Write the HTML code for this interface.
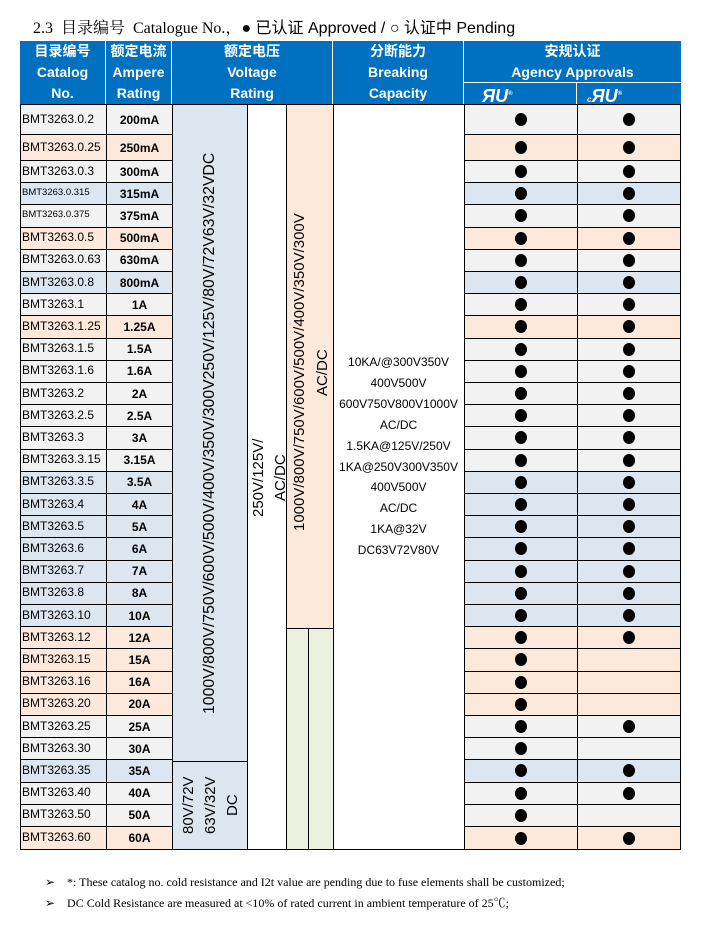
<!DOCTYPE html>
<html><head><meta charset="utf-8"><style>
body{margin:0;width:712px;height:936px;background:#fff;position:relative;overflow:hidden;font-family:"Liberation Sans","Noto Sans CJK SC",sans-serif}
.a{position:absolute;box-sizing:border-box}
.h{position:absolute;background:#0070c0;color:#fff;font-weight:bold;font-size:14px;text-align:center;line-height:21px;box-sizing:border-box;border-right:1.5px solid #fff}
.r{position:absolute;left:0;width:712px}
.r b{position:absolute;top:0;bottom:0;box-sizing:border-box;border:1px solid #000;margin-top:-1px;height:calc(100% + 1px);display:flex;align-items:center;font-weight:normal}
.c1{left:20px;width:87px;font-size:12px;padding-left:1px;padding-bottom:2px}
.c2{left:106px;width:67px;justify-content:center;font-weight:bold!important;font-size:12px}
.c3{left:464px;width:114px;justify-content:center}
.c4{left:577px;width:104px;justify-content:center}
.c3 i,.c4 i{display:block;width:12px;height:13px;border-radius:50%;background:#000}
.G b{background:#f2f2f2}.P b{background:#fce9db}.B b{background:#dce6f1}
.s{font-size:9.5px!important}
.v{position:absolute;writing-mode:vertical-rl;transform:rotate(180deg);text-align:center;font-size:15px;line-height:22px;white-space:nowrap}
.bk{position:absolute;left:333px;width:131px;text-align:center;font-size:12px}
</style></head><body>
<div class="a" style="left:33px;top:14px;font-size:16px;white-space:nowrap"><span style="font-family:'Liberation Serif','Noto Serif CJK SC',serif">2.3&nbsp; 目录编号&nbsp; Catalogue No.，</span>● 已认证 Approved / ○ 认证中 Pending</div>

<div class="h" style="left:20px;top:41px;width:86px;height:63px">目录编号<br>Catalog<br>No.</div>
<div class="h" style="left:106px;top:41px;width:66px;height:63px">额定电流<br>Ampere<br>Rating</div>
<div class="h" style="left:172px;top:41px;width:161px;height:63px">额定电压<br>Voltage<br>Rating</div>
<div class="h" style="left:333px;top:41px;width:131px;height:63px">分断能力<br>Breaking<br>Capacity</div>
<div class="h" style="left:464px;top:41px;width:217px;height:42px;border-right:none;border-bottom:1.5px solid #fff">安规认证<br>Agency Approvals</div>
<div class="h" style="left:464px;top:83px;width:113px;height:21px;font-size:18px;font-style:italic;text-align:left;padding-left:18px;line-height:22px">ЯU<sup style="font-size:6px">®</sup></div>
<div class="h" style="left:577px;top:83px;width:104px;height:21px;font-size:18px;font-style:italic;border-right:none;text-align:left;padding-left:10px;line-height:22px"><span style="font-size:8px">c</span>ЯU<sup style="font-size:6px">®</sup></div>

<div class="a" style="left:172px;top:104px;width:76px;height:658px;background:#dce6f1;border:1px solid #000"></div>
<div class="a" style="left:172px;top:761px;width:76px;height:89px;background:#dce6f1;border:1px solid #000"></div>
<div class="a" style="left:247px;top:104px;width:40px;height:746px;background:#fff;border:1px solid #000"></div>
<div class="a" style="left:286px;top:104px;width:48px;height:525px;background:#fce9db;border:1px solid #000"></div>
<div class="a" style="left:286px;top:628px;width:23px;height:222px;background:#ebf1de;border:1px solid #000"></div>
<div class="a" style="left:308px;top:628px;width:26px;height:222px;background:#ebf1de;border:1px solid #000"></div>
<div class="a" style="left:333px;top:104px;width:132px;height:746px;background:#fff;border:1px solid #000"></div>

<div class="v" style="left:199px;top:104px;height:658px;display:flex;align-items:center;justify-content:center;font-size:15.8px">1000V/800V/750V/600V/500V/400V/350V/300V250V/125V/80V/72V63V/32VDC</div>
<div class="v" style="left:178px;top:761px;height:89px;display:flex;align-items:center;justify-content:center">80V/72V<br>63V/32V<br>DC</div>
<div class="v" style="left:248px;top:420px;height:116px;display:flex;align-items:center;justify-content:center">250V/125V/<br>AC/DC</div>
<div class="v" style="left:288px;top:200px;height:345px;display:flex;align-items:center;justify-content:center;line-height:23px">1000V/800V/750V/600V/500V/400V/350V/300V<br>AC/DC</div>

<div class="bk" style="top:352px;line-height:20.9px">10KA/@300V350V<br>400V500V<br>600V750V800V1000V<br>AC/DC<br>1.5KA@125V/250V<br>1KA@250V300V350V<br>400V500V<br>AC/DC<br>1KA@32V<br>DC63V72V80V</div>

<div class="r G" style="top:105px;height:30px"><b class="c1">BMT3263.0.2</b><b class="c2">200mA</b><b class="c3"><i></i></b><b class="c4"><i></i></b></div>
<div class="r P" style="top:135px;height:26px"><b class="c1">BMT3263.0.25</b><b class="c2">250mA</b><b class="c3"><i></i></b><b class="c4"><i></i></b></div>
<div class="r G" style="top:161px;height:22.2px"><b class="c1">BMT3263.0.3</b><b class="c2">300mA</b><b class="c3"><i></i></b><b class="c4"><i></i></b></div>
<div class="r B" style="top:183.2px;height:22.2px"><b class="c1 s">BMT3263.0.315</b><b class="c2">315mA</b><b class="c3"><i></i></b><b class="c4"><i></i></b></div>
<div class="r G" style="top:205.4px;height:22.2px"><b class="c1 s">BMT3263.0.375</b><b class="c2">375mA</b><b class="c3"><i></i></b><b class="c4"><i></i></b></div>
<div class="r P" style="top:227.6px;height:22.2px"><b class="c1">BMT3263.0.5</b><b class="c2">500mA</b><b class="c3"><i></i></b><b class="c4"><i></i></b></div>
<div class="r G" style="top:249.8px;height:22.2px"><b class="c1">BMT3263.0.63</b><b class="c2">630mA</b><b class="c3"><i></i></b><b class="c4"><i></i></b></div>
<div class="r B" style="top:272px;height:22.2px"><b class="c1">BMT3263.0.8</b><b class="c2">800mA</b><b class="c3"><i></i></b><b class="c4"><i></i></b></div>
<div class="r G" style="top:294.2px;height:22.2px"><b class="c1">BMT3263.1</b><b class="c2">1A</b><b class="c3"><i></i></b><b class="c4"><i></i></b></div>
<div class="r P" style="top:316.4px;height:22.2px"><b class="c1">BMT3263.1.25</b><b class="c2">1.25A</b><b class="c3"><i></i></b><b class="c4"><i></i></b></div>
<div class="r G" style="top:338.6px;height:22.2px"><b class="c1">BMT3263.1.5</b><b class="c2">1.5A</b><b class="c3"><i></i></b><b class="c4"><i></i></b></div>
<div class="r G" style="top:360.8px;height:22.2px"><b class="c1">BMT3263.1.6</b><b class="c2">1.6A</b><b class="c3"><i></i></b><b class="c4"><i></i></b></div>
<div class="r G" style="top:383px;height:22.2px"><b class="c1">BMT3263.2</b><b class="c2">2A</b><b class="c3"><i></i></b><b class="c4"><i></i></b></div>
<div class="r G" style="top:405.2px;height:22.2px"><b class="c1">BMT3263.2.5</b><b class="c2">2.5A</b><b class="c3"><i></i></b><b class="c4"><i></i></b></div>
<div class="r G" style="top:427.4px;height:22.2px"><b class="c1">BMT3263.3</b><b class="c2">3A</b><b class="c3"><i></i></b><b class="c4"><i></i></b></div>
<div class="r G" style="top:449.6px;height:22.2px"><b class="c1">BMT3263.3.15</b><b class="c2">3.15A</b><b class="c3"><i></i></b><b class="c4"><i></i></b></div>
<div class="r B" style="top:471.8px;height:22.2px"><b class="c1">BMT3263.3.5</b><b class="c2">3.5A</b><b class="c3"><i></i></b><b class="c4"><i></i></b></div>
<div class="r B" style="top:494px;height:22.2px"><b class="c1">BMT3263.4</b><b class="c2">4A</b><b class="c3"><i></i></b><b class="c4"><i></i></b></div>
<div class="r B" style="top:516.2px;height:22.2px"><b class="c1">BMT3263.5</b><b class="c2">5A</b><b class="c3"><i></i></b><b class="c4"><i></i></b></div>
<div class="r B" style="top:538.4px;height:22.2px"><b class="c1">BMT3263.6</b><b class="c2">6A</b><b class="c3"><i></i></b><b class="c4"><i></i></b></div>
<div class="r B" style="top:560.6px;height:22.2px"><b class="c1">BMT3263.7</b><b class="c2">7A</b><b class="c3"><i></i></b><b class="c4"><i></i></b></div>
<div class="r B" style="top:582.8px;height:22.2px"><b class="c1">BMT3263.8</b><b class="c2">8A</b><b class="c3"><i></i></b><b class="c4"><i></i></b></div>
<div class="r B" style="top:605px;height:22.2px"><b class="c1">BMT3263.10</b><b class="c2">10A</b><b class="c3"><i></i></b><b class="c4"><i></i></b></div>
<div class="r P" style="top:627.2px;height:22.2px"><b class="c1">BMT3263.12</b><b class="c2">12A</b><b class="c3"><i></i></b><b class="c4"><i></i></b></div>
<div class="r P" style="top:649.4px;height:22.2px"><b class="c1">BMT3263.15</b><b class="c2">15A</b><b class="c3"><i></i></b><b class="c4"></b></div>
<div class="r P" style="top:671.6px;height:22.2px"><b class="c1">BMT3263.16</b><b class="c2">16A</b><b class="c3"><i></i></b><b class="c4"></b></div>
<div class="r P" style="top:693.8px;height:22.2px"><b class="c1">BMT3263.20</b><b class="c2">20A</b><b class="c3"><i></i></b><b class="c4"></b></div>
<div class="r G" style="top:716px;height:22.2px"><b class="c1">BMT3263.25</b><b class="c2">25A</b><b class="c3"><i></i></b><b class="c4"><i></i></b></div>
<div class="r G" style="top:738.2px;height:22.2px"><b class="c1">BMT3263.30</b><b class="c2">30A</b><b class="c3"><i></i></b><b class="c4"></b></div>
<div class="r B" style="top:760.4px;height:22.2px"><b class="c1">BMT3263.35</b><b class="c2">35A</b><b class="c3"><i></i></b><b class="c4"><i></i></b></div>
<div class="r G" style="top:782.6px;height:22.2px"><b class="c1">BMT3263.40</b><b class="c2">40A</b><b class="c3"><i></i></b><b class="c4"><i></i></b></div>
<div class="r G" style="top:804.8px;height:22.2px"><b class="c1">BMT3263.50</b><b class="c2">50A</b><b class="c3"><i></i></b><b class="c4"></b></div>
<div class="r P" style="top:827px;height:23px"><b class="c1">BMT3263.60</b><b class="c2">60A</b><b class="c3"><i></i></b><b class="c4"><i></i></b></div>

<div class="a" style="left:45px;top:872px;font-size:12px;font-family:'Liberation Serif','Noto Serif CJK SC',serif;line-height:21px;white-space:nowrap">➢&nbsp;&nbsp;&nbsp; *: These catalog no. cold resistance and I2t value are pending due to fuse elements shall be customized;<br>➢&nbsp;&nbsp;&nbsp; DC Cold Resistance are measured at &lt;10% of rated current in ambient temperature of 25℃;</div>
</body></html>
